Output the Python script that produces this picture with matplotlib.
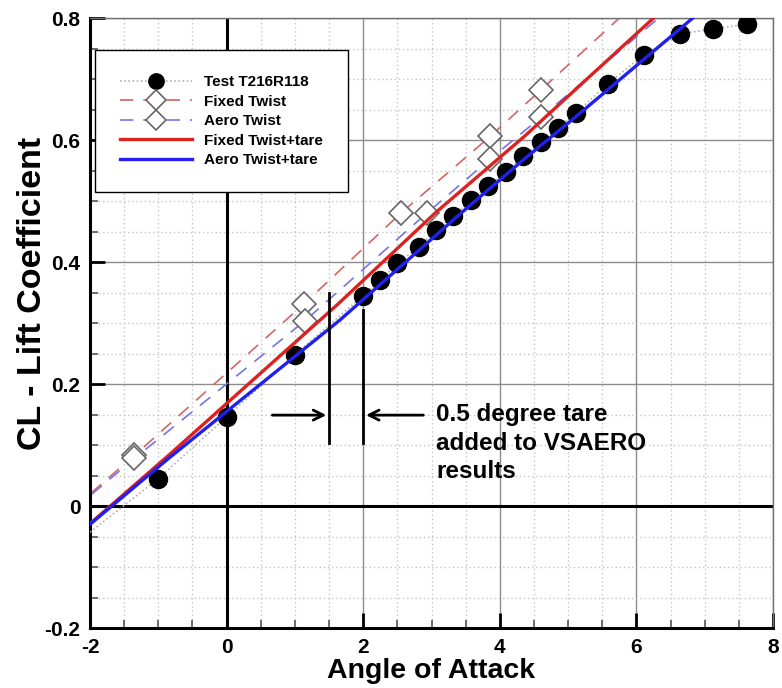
import matplotlib
matplotlib.use('Agg')
import matplotlib.pyplot as plt
from matplotlib.ticker import MultipleLocator, FuncFormatter

# --- data ---

# wind tunnel test (first vertex is only the end of the dotted line)
alpha_test = [-2.0, -1.0, 0.0, 1.0, 2.0, 2.25, 2.5, 2.81, 3.06, 3.32, 3.58, 3.83,
              4.09, 4.34, 4.61, 4.85, 5.12, 5.58, 6.11, 6.64, 7.12, 7.62]
cl_test = [-0.043, 0.045, 0.146, 0.248, 0.345, 0.370, 0.398, 0.424, 0.452, 0.476, 0.501, 0.524,
           0.548, 0.573, 0.597, 0.620, 0.645, 0.692, 0.740, 0.774, 0.782, 0.790]

# VSAERO, fixed twist (first/last vertex have no symbol)
alpha_fixed = [-2.5, -1.35, 1.13, 2.56, 3.86, 4.60, 5.80]
cl_fixed = [-0.029, 0.083, 0.331, 0.481, 0.606, 0.682, 0.805]

# VSAERO, aero twist
alpha_aero = [-2.5, -1.35, 1.15, 2.94, 3.86, 4.60, 6.40]
cl_aero = [-0.030, 0.078, 0.304, 0.481, 0.569, 0.637, 0.807]

tare = 0.5
alpha_fixed_tare = [a + tare for a in alpha_fixed]
alpha_aero_tare = [a + tare for a in alpha_aero]

labels = ['Test T216R118', 'Fixed Twist', 'Aero Twist', 'Fixed Twist+tare', 'Aero Twist+tare']

# annotation
tare_lines_x = [1.5, 2.0]
tare_lines_y = [(0.103, 0.349), (0.103, 0.321)]
arrow_y = 0.149
arrow_tails = [0.67, 2.88]
note = '0.5 degree tare\nadded to VSAERO\nresults'

# --- plot ---

plt.rcParams['font.family'] = ['Liberation Sans', 'DejaVu Sans']
plt.rcParams['font.weight'] = 'bold'
plt.rcParams['axes.unicode_minus'] = False

fig = plt.figure(figsize=(7.82, 6.88), dpi=100)
ax = fig.add_axes([0.1151, 0.0872, 0.8734, 0.8866])

ax.set_xlim(-2, 8)
ax.set_ylim(-0.2, 0.8)
ax.xaxis.set_major_locator(MultipleLocator(2))
ax.xaxis.set_minor_locator(MultipleLocator(0.5))
ax.yaxis.set_major_locator(MultipleLocator(0.2))
ax.yaxis.set_minor_locator(MultipleLocator(0.05))
fmt = FuncFormatter(lambda v, p: f'{round(v, 2):g}')
ax.xaxis.set_major_formatter(fmt)
ax.yaxis.set_major_formatter(fmt)

ax.set_axisbelow(True)
ax.grid(which='minor', color='#c4c4c4', linestyle=(0, (1, 2)), linewidth=1.0)
ax.grid(which='major', color='#8c8c8c', linestyle='-', linewidth=1.0)
ax.axhline(0, color='black', linewidth=2.2, zorder=1.5)
ax.axvline(0, color='black', linewidth=2.2, zorder=1.5)

for side in ['left', 'bottom']:
    ax.spines[side].set_linewidth(2.2)
    ax.spines[side].set_color('black')
for side in ['top', 'right']:
    ax.spines[side].set_linewidth(1.0)
    ax.spines[side].set_color('#707070')

ax.tick_params(which='major', direction='in', length=11, width=2.0, labelsize=15, pad=7)
ax.tick_params(which='minor', direction='in', length=6, width=1.2, color='#555555')

h_test, = ax.plot(alpha_test, cl_test, color='#b0b0b0', linestyle=(0, (1, 1.5)), linewidth=1.2,
                  marker='o', markersize=13, markerfacecolor='black', markeredgecolor='black',
                  markevery=slice(1, None), zorder=3)
h_fixed, = ax.plot(alpha_fixed, cl_fixed, color='#d66464', linestyle=(0, (8, 6)), linewidth=1.2,
                   marker='D', markersize=12, markerfacecolor='white', markeredgecolor='#666666',
                   markeredgewidth=1.2, markevery=slice(1, -1), zorder=2.5)
h_aero, = ax.plot(alpha_aero, cl_aero, color='#7474e6', linestyle=(0, (8, 6)), linewidth=1.2,
                  marker='D', markersize=12, markerfacecolor='white', markeredgecolor='#666666',
                  markeredgewidth=1.2, markevery=slice(1, -1), zorder=2.5)
h_fixed_t, = ax.plot(alpha_fixed_tare, cl_fixed, color='#dd2020', linewidth=2.4, zorder=4)
h_aero_t, = ax.plot(alpha_aero_tare, cl_aero, color='#2020f0', linewidth=2.4, zorder=4)

# tare annotation
for x, (y0, y1) in zip(tare_lines_x, tare_lines_y):
    ax.plot([x, x], [y0, y1], color='black', linewidth=2.0, zorder=5)
for x, tail in zip(tare_lines_x, arrow_tails):
    ax.annotate('', xy=(x, arrow_y), xytext=(tail, arrow_y),
                arrowprops=dict(arrowstyle='->', color='black', lw=2.0,
                                shrinkA=0, shrinkB=2, mutation_scale=18), zorder=5)
ax.text(3.07, 0.103, note, fontsize=17.5, fontweight='bold', va='center', ha='left',
        linespacing=1.3, zorder=5)

ax.set_xlabel('Angle of Attack', fontsize=20.5, fontweight='bold', labelpad=1)
ax.set_ylabel('CL - Lift Coefficient', fontsize=24.5, fontweight='bold')
ax.yaxis.set_label_coords(-0.062, 0.549)

leg = ax.legend([h_test, h_fixed, h_aero, h_fixed_t, h_aero_t], labels,
                loc='upper left', bbox_to_anchor=(0.0073, 0.9475), borderaxespad=0,
                fontsize=11, handlelength=4.7, handletextpad=0.8, labelspacing=0.36,
                borderpad=1.65, fancybox=False, framealpha=1, edgecolor='black',
                markerscale=0.85)
leg.get_frame().set_linewidth(1.0)
leg.set_zorder(6)

fig.savefig('out.png', dpi=100)
